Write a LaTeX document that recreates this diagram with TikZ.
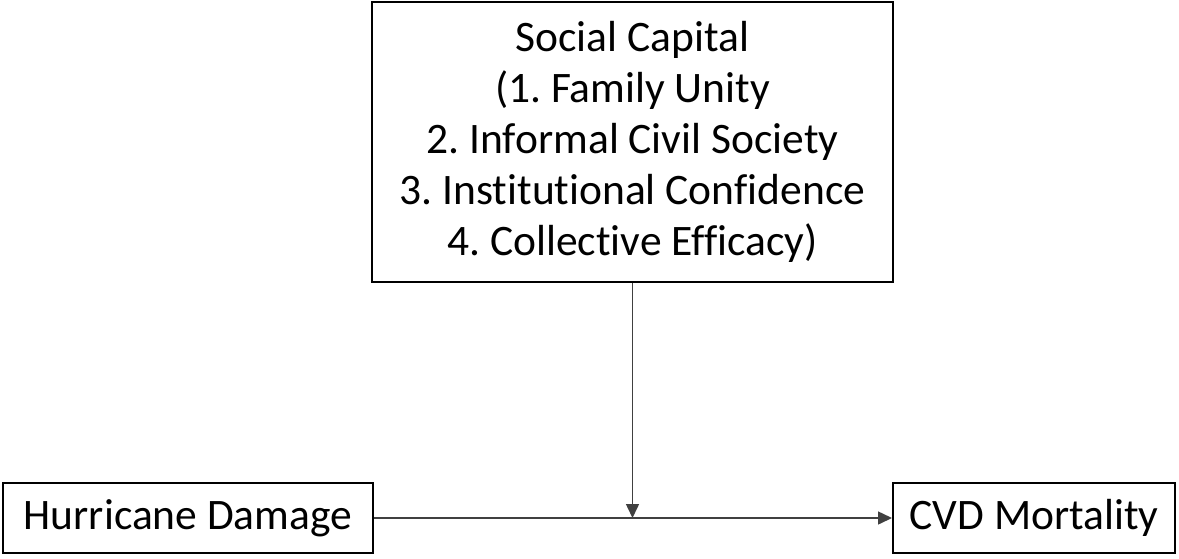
\documentclass[tikz,border=0pt]{standalone}
\usepackage{fontspec}
\setmainfont[Ligatures={NoCommon}]{Carlito}
\frenchspacing
\usetikzlibrary{arrows.meta,positioning}
\tikzset{
	varbox/.style={draw,line width=2pt,align=center,inner sep=0pt,font=\fontsize{43.5}{51}\selectfont},
	link/.style={line width=1.5pt,black!75,-{Triangle[length=14pt,width=13pt]}}
}
\begin{document}
\begin{tikzpicture}[x=1pt,y=-1pt]
	
	\useasboundingbox (0,0) rectangle (1179,558);
	
	\node[varbox,minimum width=521pt,minimum height=280pt] (social) at (632.5,142) {Social Capital\\(1. Family Unity\\2. Informal Civil Society\\3. Institutional Confidence\\4. Collective Efficacy)};
	\node[varbox,minimum width=370pt,minimum height=70pt] (hurricane) at (188,518) {Hurricane Damage};
	\node[varbox,minimum width=282pt,minimum height=70pt] (cvd) at (1034,518) {CVD Mortality};
	
	\coordinate (meet) at (social.south |- hurricane.east);
	
	\draw[link] (hurricane.east) -- (cvd.west);
	\draw[link] (social.south) -- (meet);
	
\end{tikzpicture}
\end{document}
